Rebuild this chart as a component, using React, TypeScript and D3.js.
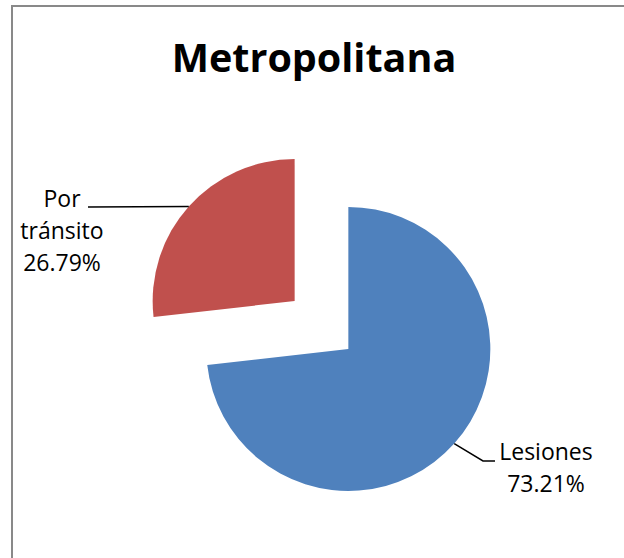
import React, { useEffect } from "react";
import { pie, arc, PieArcDatum } from "d3";

const categories = ["Lesiones", "Por tránsito"];
const values = [73.21, 26.79];
const percentLabels = ["73.21%", "26.79%"];
const colors = ["#4F81BD", "#C0504D"];

const W = 624;
const H = 558;
const cx = 321.5;
const cy = 325;
const radius = 142;
const explode = 36;

// label text blocks (centre x, first baseline) and the elbow of the leader line
const labelLayout = [
  { lines: ["Lesiones", "73.21%"], x: 546, y: 460, elbow: [483, 461], end: [495, 461] },
  { lines: ["Por", "tránsito", "26.79%"], x: 62, y: 207, elbow: [150, 207], end: [88, 207] },
];

type Datum = { name: string; value: number; pct: string };

const App = () => {
  useEffect(() => {
    document.body.style.margin = "0";
    document.documentElement.style.overflow = "hidden";
  }, []);

  const data: Datum[] = categories.map((c, i) => ({ name: c, value: values[i], pct: percentLabels[i] }));

  const slices = pie<Datum>()
    .sort(null)
    .value((d) => d.value)
    .startAngle(0)
    .endAngle(2 * Math.PI)(data);

  const arcGen = arc<PieArcDatum<Datum>>().innerRadius(0).outerRadius(radius);
  const edge = arc<PieArcDatum<Datum>>().innerRadius(radius).outerRadius(radius);

  const font = "'Open Sans', 'DejaVu Sans', sans-serif";

  return (
    <svg width={W} height={H} style={{ display: "block", background: "#fff" }}>
      {/* chart border: only the top and left edges fall inside the crop */}
      <line x1={12} y1={6} x2={W} y2={6} stroke="#898989" strokeWidth={2} />
      <line x1={12} y1={5} x2={12} y2={H} stroke="#898989" strokeWidth={2} />
      <text
        x={314}
        y={72}
        textAnchor="middle"
        fontFamily={font}
        fontWeight="bold"
        fontSize={39.5}
        fill="#000"
      >
        Metropolitana
      </text>

      {slices.map((s, i) => {
        const mid = (s.startAngle + s.endAngle) / 2;
        const ox = cx + explode * Math.sin(mid);
        const oy = cy - explode * Math.cos(mid);
        const [ex, ey] = edge.centroid(s);
        const lab = labelLayout[i];
        const sx = ox + ex;
        const sy = oy + ey;
        const pts =
          i === 0
            ? `${sx},${sy} ${lab.elbow[0]},${lab.elbow[1]} ${lab.end[0]},${lab.end[1]}`
            : `${sx},${sy} ${lab.end[0]},${lab.end[1]}`;
        return (
          <g key={s.data.name}>
            <path d={arcGen(s) || ""} transform={`translate(${ox},${oy})`} fill={colors[i]} />
            <polyline points={pts} fill="none" stroke="#000" strokeWidth={1.5} />
            <text textAnchor="middle" fontFamily={font} fontSize={23} fill="#000">
              {lab.lines.map((l, j) => (
                <tspan key={j} x={lab.x} y={lab.y + j * 32}>
                  {l}
                </tspan>
              ))}
            </text>
          </g>
        );
      })}
    </svg>
  );
};

export default App;
